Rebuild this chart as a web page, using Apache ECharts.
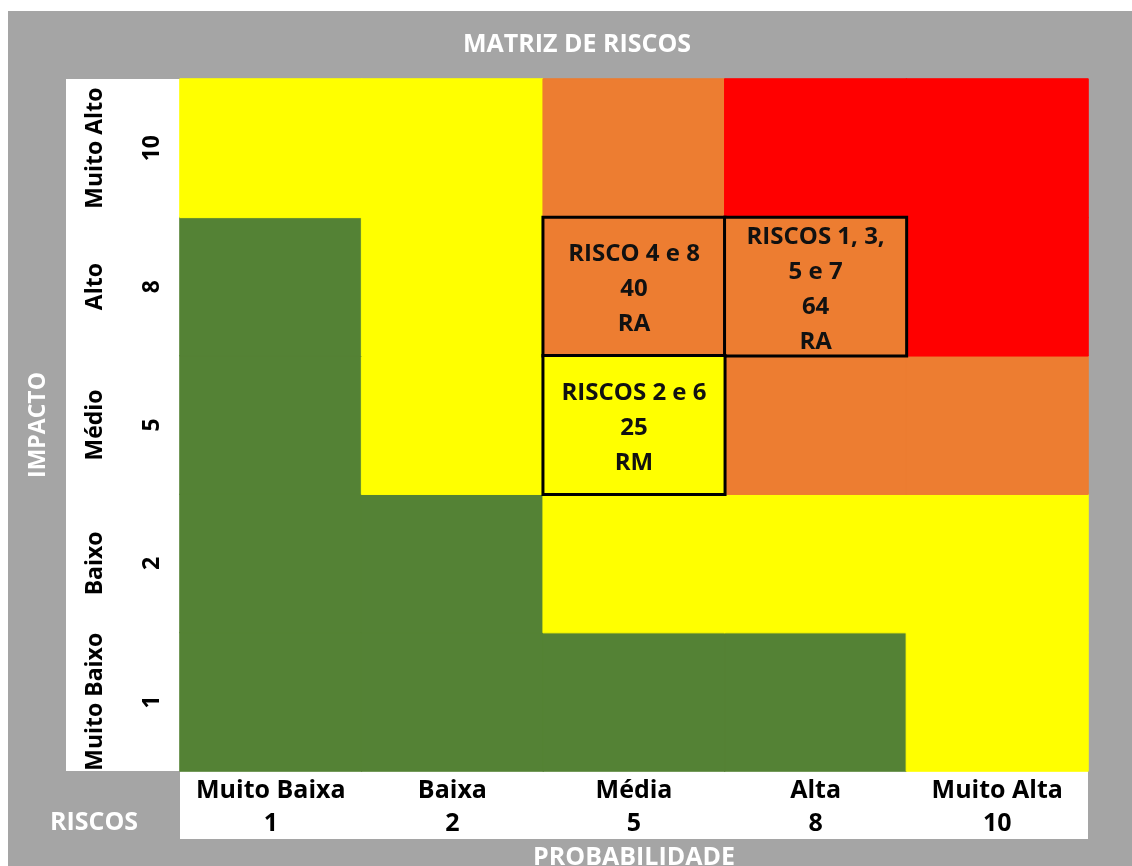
<!DOCTYPE html>
<html>
<head>
<meta charset="utf-8">
<script src="https://cdn.jsdelivr.net/npm/echarts@6/dist/echarts.min.js"></script>
<style>html,body{margin:0;padding:0;background:#fff;}#c{width:1132px;height:866px;}</style>
</head>
<body>
<div id="c"></div>
<script>
// ---- data ----
const probLabels = ['Muito Baixa', 'Baixa', 'Média', 'Alta', 'Muito Alta'];
const probValues = [1, 2, 5, 8, 10];
const impactLabels = ['Muito Baixo', 'Baixo', 'Médio', 'Alto', 'Muito Alto'];
const impactValues = [1, 2, 5, 8, 10];
// risk level per cell, rows = impact (1 -> 10), cols = probability (1 -> 10)
const riskLevels = [
  ['G', 'G', 'G', 'G', 'Y'],
  ['G', 'G', 'Y', 'Y', 'Y'],
  ['G', 'Y', 'Y', 'O', 'O'],
  ['G', 'Y', 'O', 'O', 'R'],
  ['Y', 'Y', 'O', 'R', 'R']
];
const riskCells = [
  { prob: 5, impact: 8, risks: 'RISCO 4 e 8', score: 40, rating: 'RA' },
  { prob: 8, impact: 8, risks: 'RISCOS 1, 3,\n5 e 7', score: 64, rating: 'RA' },
  { prob: 5, impact: 5, risks: 'RISCOS 2 e 6', score: 25, rating: 'RM' }
];

// ---- styles ----
const levelOrder = ['G', 'Y', 'O', 'R'];
const levelColors = ['#548235', '#ffff00', '#ed7d31', '#ff0000'];
const FONT = "'Open Sans', 'Noto Sans', sans-serif";
const GRAY = '#a5a5a5';

const xCats = probLabels.map((l, i) => l + '\n' + probValues[i]);
const yCats = impactLabels.map((l, i) => l + '\n' + impactValues[i]);

const baseData = [];
riskLevels.forEach((row, yi) => {
  row.forEach((lv, xi) => {
    const isRisk = riskCells.some(c => c.prob === probValues[xi] && c.impact === impactValues[yi]);
    if (!isRisk) {
      const li = levelOrder.indexOf(lv);
      baseData.push({ value: [xi, yi, li], itemStyle: { borderColor: levelColors[li], borderWidth: 1 } });
    }
  });
});
const riskData = riskCells.map(c => {
  const xi = probValues.indexOf(c.prob);
  const yi = impactValues.indexOf(c.impact);
  const lv = levelOrder.indexOf(riskLevels[yi][xi]);
  return {
    value: [xi, yi, lv],
    itemStyle: { borderColor: '#000', borderWidth: 3 },
    label: {
      show: true,
      formatter: c.risks + '\n' + c.score + '\n' + c.rating
    }
  };
});

const chart = echarts.init(document.getElementById('c'), null, { renderer: 'canvas' });
chart.setOption({
  animation: false,
  backgroundColor: '#ffffff',
  graphic: [
    { type: 'rect', z: -10, silent: true, shape: { x: 8, y: 11, width: 1124, height: 855 }, style: { fill: GRAY } },
    { type: 'rect', z: -9, silent: true, shape: { x: 66, y: 79, width: 114, height: 692 }, style: { fill: '#ffffff' } },
    { type: 'rect', z: -9, silent: true, shape: { x: 180, y: 771, width: 908, height: 68 }, style: { fill: '#ffffff' } },
    { type: 'text', z: 5, silent: true, style: { x: 94, y: 823, text: 'RISCOS', fill: '#ffffff', font: 'bold 25px ' + FONT, textAlign: 'center', textVerticalAlign: 'middle' } }
  ],
  title: {
    text: 'MATRIZ DE RISCOS',
    left: 572,
    top: 27,
    textAlign: 'center',
    textStyle: { color: '#ffffff', fontSize: 25, fontWeight: 'bold', fontFamily: FONT }
  },
  visualMap: {
    show: false,
    type: 'piecewise',
    dimension: 2,
    pieces: levelColors.map((c, i) => ({ value: i, color: c }))
  },
  grid: { left: 180, right: 44, top: 79, bottom: 95, containLabel: false, outerBoundsMode: 'none' },
  xAxis: {
    type: 'category',
    data: xCats,
    position: 'bottom',
    axisLine: { show: false },
    axisTick: { show: false },
    splitLine: { show: false },
    axisLabel: { interval: 0, margin: 3, lineHeight: 33, fontSize: 25, fontWeight: 'bold', color: '#000', fontFamily: FONT },
    name: 'PROBABILIDADE',
    nameLocation: 'middle',
    nameGap: 73,
    nameTextStyle: { color: '#ffffff', fontSize: 25, fontWeight: 'bold', fontFamily: FONT }
  },
  yAxis: {
    type: 'category',
    data: yCats,
    axisLine: { show: false },
    axisTick: { show: false },
    splitLine: { show: false },
    axisLabel: { interval: 0, rotate: 90, margin: -1, lineHeight: 57, fontSize: 23, fontWeight: 'bold', color: '#000', fontFamily: FONT },
    name: 'IMPACTO',
    nameLocation: 'middle',
    nameRotate: 90,
    nameGap: 130,
    nameTextStyle: { color: '#ffffff', fontSize: 23, fontWeight: 'bold', fontFamily: FONT }
  },
  series: [{
    type: 'heatmap',
    data: baseData.concat(riskData),
    label: { show: false, color: '#111', fontSize: 24, fontWeight: 'bold', lineHeight: 35, fontFamily: FONT, align: 'center', offset: [0, 3] },
    emphasis: { disabled: true },
    itemStyle: { borderWidth: 0 }
  }]
});
</script>
</body>
</html>
